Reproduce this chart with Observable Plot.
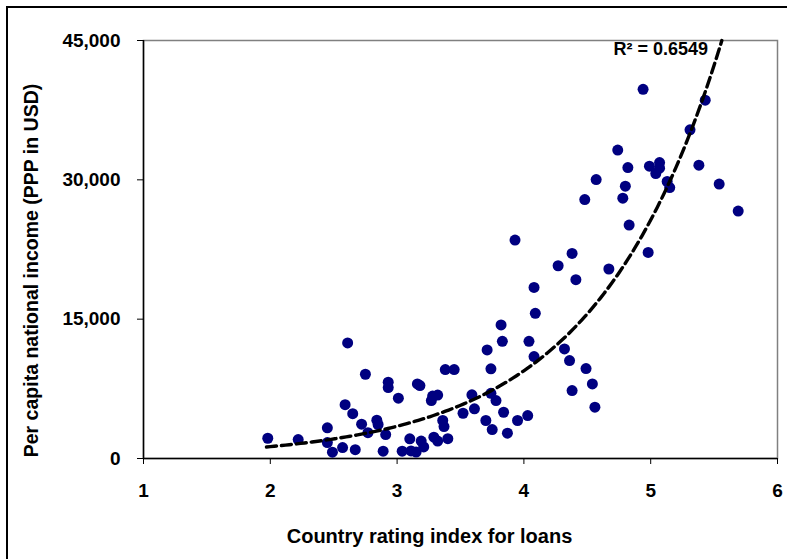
<!DOCTYPE html>
<html>
<head>
<meta charset="utf-8">
<script src="https://cdn.jsdelivr.net/npm/d3@7"></script>
<script src="https://cdn.jsdelivr.net/npm/@observablehq/plot@0.6"></script>
<style>
  html, body { margin: 0; padding: 0; background: #fff; }
  #wrap { position: relative; width: 787px; height: 559px; overflow: hidden; }
  #border { position: absolute; left: 6px; top: 6px; width: 800px; height: 600px; border: 2px solid #000; box-sizing: border-box; pointer-events: none; }
  #chart { position: absolute; left: 0; top: 0; }
</style>
</head>
<body>
<div id="wrap"><div id="chart"></div><div id="border"></div></div>
<script>
// Country rating index for loans (x) and per capita national income, PPP USD (y)
const ratingIndex = [
  1.98, 2.22, 2.45, 2.45, 2.49, 2.57, 2.59, 2.61, 2.65, 2.67,
  2.72, 2.75, 2.77, 2.84, 2.85, 2.91, 2.89, 2.93, 2.93, 3.01,
  3.04, 3.10, 3.11, 3.15, 3.16, 3.18, 3.19, 3.21, 3.28, 3.27,
  3.32, 3.29, 3.32, 3.36, 3.37, 3.38, 3.45, 3.40, 3.52, 3.59,
  3.61, 3.70, 3.71, 3.74, 3.74, 3.78, 3.75, 3.82, 3.83, 3.84,
  3.87, 3.93, 3.95, 4.03, 4.04, 4.08, 4.09, 4.08, 4.27, 4.32,
  4.36, 4.38, 4.41, 4.38, 4.49, 4.54, 4.56, 4.67, 4.48, 4.57,
  4.74, 4.78, 4.80, 4.82, 4.83, 4.94, 4.98, 4.99, 5.07, 5.07,
  5.04, 5.13, 5.15, 5.31, 5.38, 5.43, 5.54, 5.69
];
const incomePPP = [
  2180, 2040, 3300, 1720, 680, 1180, 5790, 12440, 4820, 950,
  3690, 9070, 2780, 4120, 3660, 2580, 790, 8210, 7640, 6490,
  790, 2120, 810, 700, 8030, 7850, 1880, 1240, 6720, 6240,
  6830, 2290, 1880, 4090, 3440, 9570, 9570, 2130, 4870, 6850,
  5350, 4090, 11690, 9650, 7020, 6240, 3120, 14380, 12610, 4980,
  2720, 23520, 4090, 4620, 12610, 18420, 15630, 10970, 20750, 11800,
  10540, 22080, 19250, 7310, 9680, 8030, 5520, 20400, 27880, 30030,
  33200, 28030, 29320, 31320, 25130, 39750, 22180, 31470, 31860, 31260,
  30680, 29820, 29170, 35380, 31580, 38570, 29540, 26640
];
const xTicks = [1, 2, 3, 4, 5, 6];
const yTicks = [0, 15000, 30000, 45000];
const xLabel = "Country rating index for loans";
const yLabel = "Per capita national income (PPP in USD)";
const r2Label = "R² = 0.6549";

// Exponential trendline y = A·e^(B·x), coefficients
const trendA = 173;
const trendB = 1.0;

const data = ratingIndex.map((x, i) => ({x, y: incomePPP[i]}));

const x0 = d3.min(ratingIndex) - 0.01;
const x1 = Math.min(6, Math.log(45000 / trendA) / trendB);
const trend = d3.range(0, 121).map(i => {
  const x = x0 + (x1 - x0) * i / 120;
  return {x, y: trendA * Math.exp(trendB * x)};
});

const font = "'Liberation Sans', Arial, Helvetica, sans-serif";

const chart = Plot.plot({
  width: 787,
  height: 559,
  marginLeft: 143,
  marginRight: 10,
  marginTop: 40,
  marginBottom: 101,
  style: {fontFamily: font, fontSize: "19px", fontWeight: "bold", color: "#000", background: "transparent"},
  x: {domain: [1, 6]},
  y: {domain: [0, 45000]},
  marks: [
    Plot.frame({stroke: "#808080", strokeWidth: 1.5}),
    Plot.axisX({ticks: xTicks, tickSize: 6, tickPadding: 19, label: null, tickFormat: d3.format("d")}),
    Plot.axisY({ticks: yTicks, tickSize: 6, tickPadding: 17, label: null, tickFormat: d3.format(",")}),
    Plot.ruleX([1], {stroke: "#000", strokeWidth: 1.5}),
    Plot.ruleY([0], {stroke: "#000", strokeWidth: 1.5}),
    Plot.dot(data, {x: "x", y: "y", r: 5.5, fill: "#000080", stroke: "none"}),
    Plot.line(trend, {x: "x", y: "y", stroke: "#000", strokeWidth: 3.4, strokeDasharray: "10,5"}),
    Plot.text([r2Label], {frameAnchor: "top-left", text: d => d, textAnchor: "start", lineAnchor: "middle", dx: 470, dy: 9, fontSize: 18, fontWeight: "bold"}),
    Plot.text([xLabel], {frameAnchor: "bottom", text: d => d, textAnchor: "middle", lineAnchor: "middle", dx: -31, dy: 78, fontSize: 20, fontWeight: "bold"}),
    Plot.text([yLabel], {frameAnchor: "left", text: d => d, rotate: -90, textAnchor: "middle", lineAnchor: "middle", dx: -111.5, dy: 21, fontSize: 19.5, fontWeight: "bold"})
  ]
});
document.getElementById("chart").appendChild(chart);
</script>
</body>
</html>
